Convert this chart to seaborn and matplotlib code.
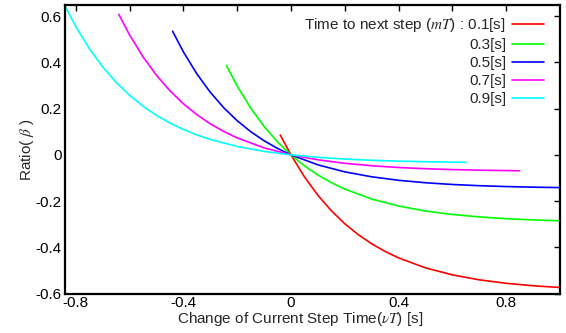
import matplotlib
matplotlib.use("Agg")
import matplotlib.pyplot as plt
import seaborn as sns
import pandas as pd

# Data
labels = ["Time to next step ($mT$) : 0.1[s]", "0.3[s]", "0.5[s]", "0.7[s]", "0.9[s]"]
colors = ["#ff0000", "#00ff00", "#0000ff", "#ff00ff", "#00ffff"]

x_01 = [-0.04, 0, 0.05, 0.1, 0.15, 0.2, 0.25, 0.3, 0.35, 0.4, 0.5, 0.6, 0.7, 0.8, 0.9, 1.0]
y_01 = [0.086, 0, -0.095, -0.1748, -0.2417, -0.298, -0.3451, -0.3848, -0.418, -0.4459,
        -0.489, -0.5194, -0.5408, -0.5559, -0.5665, -0.574]

x_03 = [-0.24, -0.2, -0.15, -0.1, -0.05, 0, 0.05, 0.1, 0.15, 0.2, 0.3, 0.4, 0.5, 0.6, 0.7, 0.8, 0.9, 1.0]
y_03 = [0.387, 0.2981, 0.203, 0.1232, 0.0562, 0, -0.0472, -0.0868, -0.1201, -0.148, -0.1911,
        -0.2215, -0.2429, -0.258, -0.2686, -0.2761, -0.2814, -0.2851]

x_05 = [-0.44, -0.4, -0.35, -0.3, -0.25, -0.2, -0.15, -0.1, -0.05, 0, 0.1, 0.2, 0.3, 0.4, 0.5,
        0.6, 0.7, 0.8, 0.9, 1.0]
y_05 = [0.535, 0.4461, 0.351, 0.2712, 0.2042, 0.148, 0.1008, 0.0612, 0.0279, 0, -0.0431, -0.0735,
        -0.0949, -0.11, -0.1206, -0.1281, -0.1334, -0.1371, -0.1397, -0.1416]

x_07 = [-0.64, -0.6, -0.55, -0.5, -0.45, -0.4, -0.35, -0.3, -0.25, -0.2, -0.1, 0, 0.1, 0.2, 0.3,
        0.4, 0.5, 0.6, 0.7, 0.85]
y_07 = [0.6083, 0.5194, 0.4244, 0.3446, 0.2776, 0.2214, 0.1742, 0.1346, 0.1014, 0.0735, 0.0304, 0,
        -0.0214, -0.0365, -0.0471, -0.0546, -0.0599, -0.0636, -0.0662, -0.0688]

x_09 = [-0.84, -0.8, -0.75, -0.7, -0.65, -0.6, -0.55, -0.5, -0.45, -0.4, -0.35, -0.3, -0.2, -0.1,
        0, 0.1, 0.2, 0.3, 0.4, 0.5, 0.65]
y_09 = [0.645, 0.556, 0.4609, 0.3812, 0.3142, 0.258, 0.2108, 0.1712, 0.1379, 0.11, 0.0865, 0.0669,
        0.0365, 0.0151, 0, -0.0106, -0.0181, -0.0234, -0.0271, -0.0297, -0.0323]

xs = [x_01, x_03, x_05, x_07, x_09]
ys = [y_01, y_03, y_05, y_07, y_09]

xticks = [-0.8, -0.6, -0.4, -0.2, 0, 0.2, 0.4, 0.6, 0.8]
xticklabels = ["-0.8", "", "-0.4", "", "0", "", "0.4", "", "0.8"]
yticks = [-0.6, -0.4, -0.2, 0, 0.2, 0.4, 0.6]
yticklabels = ["-0.6", "-0.4", "-0.2", "0", "0.2", "0.4", "0.6"]

rows = []
for lab, xv, yv in zip(labels, xs, ys):
    for i, (a, b) in enumerate(zip(xv, yv)):
        rows.append({"series": lab, "x": a, "y": b, "order": i})
df = pd.DataFrame(rows)

sns.set_style("white")
plt.rcParams["font.family"] = ["Liberation Sans", "DejaVu Sans"]
plt.rcParams["mathtext.fontset"] = "stix"
plt.rcParams["axes.unicode_minus"] = False

fig = plt.figure(figsize=(5.66, 3.33), dpi=100)
ax = fig.add_axes([0.1148, 0.1186, 0.8746, 0.8673])

sns.lineplot(data=df, x="x", y="y", hue="series", hue_order=labels,
             palette=dict(zip(labels, colors)), sort=False, estimator=None,
             units="series", linewidth=1.2, ax=ax, legend=False)

ax.set_xlim(-0.84, 1.0)
ax.set_ylim(-0.6, 0.65)
ax.set_xticks(xticks)
ax.set_xticklabels(xticklabels)
ax.set_yticks(yticks)
ax.set_yticklabels(yticklabels)
ax.tick_params(direction="in", length=4.5, width=1, top=True, right=True,
               labelsize=11, colors="black")
ax.tick_params(axis="x", pad=1.5)
ax.tick_params(axis="y", pad=2.5)
for s in ax.spines.values():
    s.set_visible(True)
    s.set_linewidth(1.6)
    s.set_color("black")

ax.set_xlabel("Change of Current Step Time($\\nu T$) [s]", fontsize=11)
ax.xaxis.set_label_coords(0.475, -0.058, transform=ax.transAxes)
ax.xaxis.label.set_va("top")
ax.set_ylabel("Ratio( $\\beta$ )", fontsize=11)
ax.yaxis.set_label_coords(-0.077, 0.5, transform=ax.transAxes)
ax.yaxis.label.set_va("center")

handles = [plt.Line2D([], [], color=c, linewidth=1.2) for c in colors]
ax.legend(handles, labels, loc="upper right", markerfirst=False, frameon=False,
          fontsize=11, handlelength=2.1, handletextpad=0.4, labelspacing=0.26,
          borderaxespad=0.3, bbox_to_anchor=(0.99, 0.997))

fig.savefig("out.png", dpi=100)
